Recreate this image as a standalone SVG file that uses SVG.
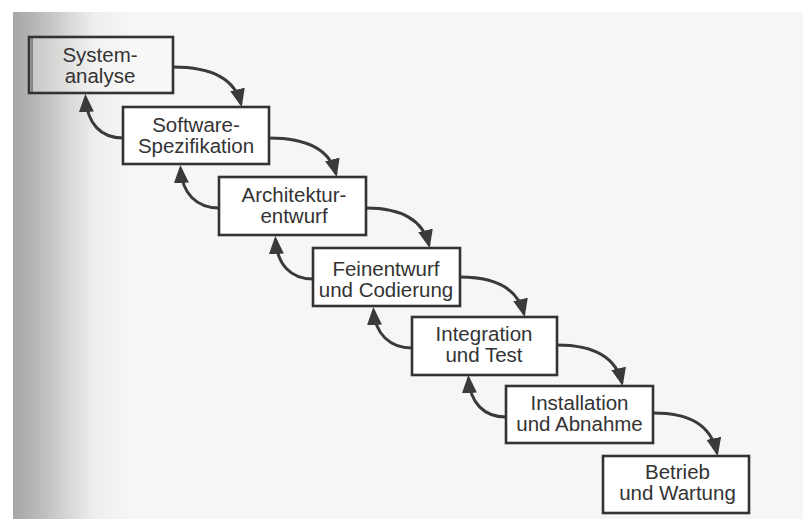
<svg xmlns="http://www.w3.org/2000/svg" width="803" height="519" viewBox="0 0 803 519">
<defs>
<linearGradient id="shade" gradientUnits="userSpaceOnUse" x1="13" y1="0" x2="130" y2="0">
<stop offset="0" stop-color="#a6a6a4"/>
<stop offset="0.25" stop-color="#bdbdbb"/>
<stop offset="0.5" stop-color="#dadad8"/>
<stop offset="0.7" stop-color="#eeeeec"/>
<stop offset="1" stop-color="#f6f6f4"/>
</linearGradient>
<marker id="ah" markerUnits="userSpaceOnUse" viewBox="0 0 18 15" refX="15" refY="7.5" markerWidth="18" markerHeight="15" orient="auto">
<path d="M0,0 L18,7.5 L0,15 z" fill="#3a3a3a"/>
</marker>
<style>
.box{fill:#ffffff;stroke:#333333;stroke-width:2.6}
.lbl{font-family:"Liberation Sans",Arial,sans-serif;font-size:20.5px;fill:#333333;text-anchor:middle}
.con{fill:none;stroke:#3a3a3a;stroke-width:3;marker-end:url(#ah)}
</style>
</defs>
<rect x="0" y="0" width="803" height="519" fill="#ffffff"/>
<rect x="13" y="12" width="790" height="507" fill="url(#shade)"/>

<g id="connectors">
<path class="con" d="M173,67 C211,67 235,79 241,104"/>
<path class="con" d="M269,138 C307,138 330,150 336,174"/>
<path class="con" d="M366,208 C402,208 423,220 429,245"/>
<path class="con" d="M460,277 C497,277 518,289 524,314"/>
<path class="con" d="M557,345 C594,345 616,357 622,383"/>
<path class="con" d="M653,413 C690,413 711,425 717,453"/>
<path class="con" d="M123,138 C101,138 87,124 85.5,97"/>
<path class="con" d="M219,208 C197,208 182,194 180.5,168"/>
<path class="con" d="M313,279 C291,279 277,265 275.5,239"/>
<path class="con" d="M412,348 C390,348 375,334 373.5,310"/>
<path class="con" d="M506,417 C484,417 470,403 468.5,378"/>
</g>

<g id="n1">
<rect class="box" x="29" y="37" width="144" height="56" style="fill:#ffffff;fill-opacity:0.25"/>
<line x1="32" y1="38" x2="32" y2="92" stroke="#555555" stroke-width="1.2"/>
<text class="lbl" x="100" y="61.5">System-</text>
<text class="lbl" x="100" y="82.5">analyse</text>
</g>
<g id="n2">
<rect class="box" x="123" y="107" width="146" height="57"/>
<text class="lbl" x="196" y="131.5">Software-</text>
<text class="lbl" x="196" y="152.5">Spezifikation</text>
</g>
<g id="n3">
<rect class="box" x="219" y="177" width="147" height="58"/>
<text class="lbl" x="294" y="201.5">Architektur-</text>
<text class="lbl" x="294" y="222.5">entwurf</text>
</g>
<g id="n4">
<rect class="box" x="313" y="248" width="147" height="58"/>
<text class="lbl" x="386" y="276">Feinentwurf</text>
<text class="lbl" x="386" y="297">und Codierung</text>
</g>
<g id="n5">
<rect class="box" x="412" y="317" width="145" height="58"/>
<text class="lbl" x="484" y="341">Integration</text>
<text class="lbl" x="484" y="362">und Test</text>
</g>
<g id="n6">
<rect class="box" x="506" y="386" width="147" height="57"/>
<text class="lbl" x="579.5" y="410">Installation</text>
<text class="lbl" x="579.5" y="431">und Abnahme</text>
</g>
<g id="n7">
<rect class="box" x="603" y="456" width="146" height="57"/>
<text class="lbl" x="677.5" y="479">Betrieb</text>
<text class="lbl" x="677.5" y="500">und Wartung</text>
</g>
</svg>
